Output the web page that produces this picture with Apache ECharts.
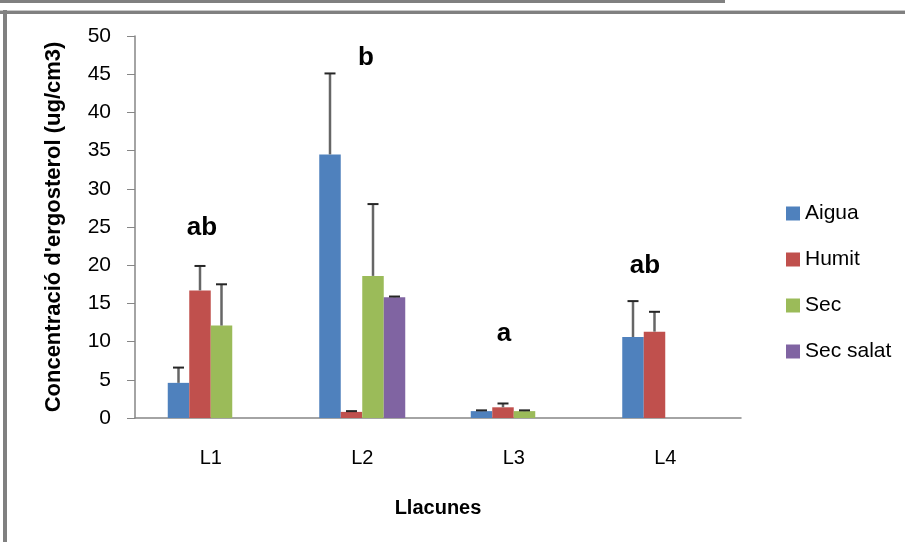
<!DOCTYPE html>
<html>
<head>
<meta charset="utf-8">
<script src="https://cdn.jsdelivr.net/npm/echarts@6/dist/echarts.min.js"></script>
<style>html,body{margin:0;padding:0;background:#fff;}#c{width:905px;height:542px;}</style>
</head>
<body>
<div id="c"></div>
<script>
// ---- data ----
const categories = ['L1', 'L2', 'L3', 'L4'];
const seriesNames = ['Aigua', 'Humit', 'Sec', 'Sec salat'];
const aigua    = [4.6, 34.5, 0.9, 10.6];
const humit    = [16.7, 0.8, 1.4, 11.3];
const sec      = [12.1, 18.6, 0.9, null];
const secSalat = [null, 15.8, null, null];
const aiguaErr    = [2.0, 10.6, 0.1, 4.7];
const humitErr    = [3.2, 0.1, 0.5, 2.6];
const secErr      = [5.4, 9.4, 0.1, null];
const secSalatErr = [null, 0.1, null, null];
const letters = ['ab', 'b', 'a', 'ab'];
const yTicks = [0, 50, 5];

const values = [aigua, humit, sec, secSalat];
const errors = [aiguaErr, humitErr, secErr, secSalatErr];
const colors = ['#4F81BD', '#C0504D', '#9BBB59', '#8064A2'];
const BW = 21.5;
const FONT = 'Liberation Sans, Arial, sans-serif';

const chart = echarts.init(document.getElementById('c'));

const series = [];
values.forEach((vals, i) => {
  series.push({
    name: seriesNames[i], type: 'bar', data: vals, barWidth: BW, barGap: '0%',
    itemStyle: { color: colors[i] }
  });
});
errors.forEach((errs, i) => {
  series.push({
    name: 'err' + i, type: 'custom', z: 5,
    data: categories.map((c, k) => [k, values[i][k], errs[k]]).filter(d => d[1] != null && d[2] != null),
    renderItem: function (params, api) {
      const cat = api.value(0), v = api.value(1), e = api.value(2);
      const base = api.coord([cat, v]);
      const top = api.coord([cat, v + e]);
      const x = base[0] + (i - 1.5) * BW;
      const half = 5.5;
      return {
        type: 'group',
        children: [
          { type: 'line', shape: { x1: x, y1: base[1], x2: x, y2: top[1] }, style: { stroke: '#666666', lineWidth: 2.5 } },
          { type: 'line', shape: { x1: x - half, y1: top[1], x2: x + half, y2: top[1] }, style: { stroke: '#262626', lineWidth: 2 } }
        ]
      };
    }
  });
});

const letterPos = [[202, 228], [366, 58], [504, 334], [645, 266]];

chart.setOption({
  animation: false,
  grid: { left: 135, right: 164, top: 36, bottom: 124 },
  legend: {
    data: seriesNames, orient: 'vertical', left: 781, top: 198,
    itemWidth: 14, itemHeight: 14, itemGap: 25, icon: 'rect',
    textStyle: { fontFamily: FONT, fontSize: 21, color: '#000' }
  },
  xAxis: {
    type: 'category', data: categories,
    name: 'Llacunes', nameLocation: 'middle', nameGap: 80,
    nameTextStyle: { fontFamily: FONT, fontSize: 20, fontWeight: 'bold', color: '#000' },
    axisLine: { lineStyle: { color: '#868686', width: 1.5 } },
    axisTick: { show: false },
    axisLabel: { fontFamily: FONT, fontSize: 20, color: '#000', margin: 30 }
  },
  yAxis: {
    type: 'value', min: yTicks[0], max: yTicks[1], interval: yTicks[2],
    name: "Concentració d'ergosterol (ug/cm3)", nameLocation: 'middle', nameGap: 70,
    nameTextStyle: { fontFamily: FONT, fontSize: 22, fontWeight: 'bold', color: '#000' },
    axisLine: { show: true, lineStyle: { color: '#868686', width: 1.5 } },
    axisTick: { show: true, length: 8, lineStyle: { color: '#868686' } },
    splitLine: { show: false },
    axisLabel: { fontFamily: FONT, fontSize: 21, color: '#000', margin: 24 }
  },
  graphic: [
    { type: 'rect', shape: { x: 0, y: 0, width: 725, height: 3 }, style: { fill: '#808080' } },
    { type: 'rect', shape: { x: 0, y: 10, width: 905, height: 1 }, style: { fill: '#c8c8c8' } },
    { type: 'rect', shape: { x: 0, y: 11, width: 905, height: 3 }, style: { fill: '#808080' } },
    { type: 'rect', shape: { x: 3, y: 10, width: 4, height: 532 }, style: { fill: '#808080' } }
  ].concat(letters.map((t, k) => ({
    type: 'text', x: letterPos[k][0], y: letterPos[k][1],
    style: { text: t, fontFamily: FONT, fontSize: 26, fontWeight: 'bold', fill: '#000', align: 'center', verticalAlign: 'middle' }
  }))),
  series: series
});
</script>
</body>
</html>
